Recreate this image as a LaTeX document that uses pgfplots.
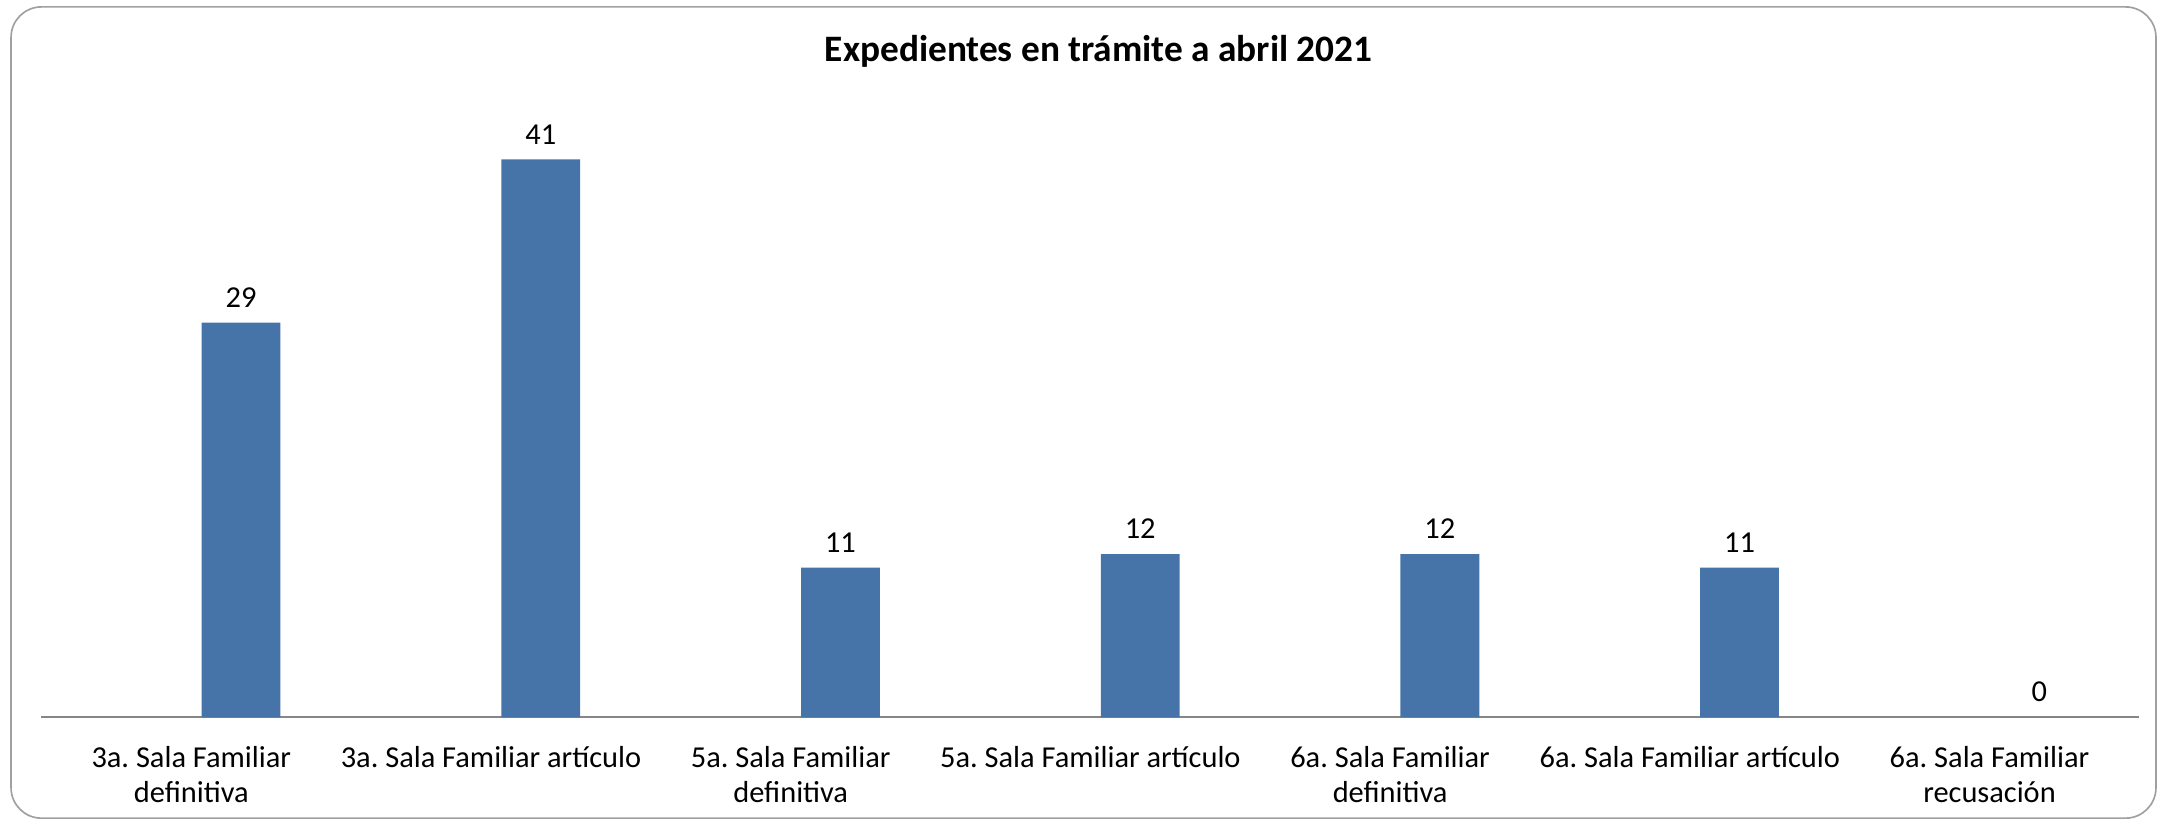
\documentclass[border=0pt]{standalone}
\usepackage{fontspec}
\setmainfont{Carlito}
\usepackage{pgfplots}
\pgfplotsset{compat=1.18}
\definecolor{barblue}{RGB}{70,116,168}
\definecolor{framegray}{RGB}{160,160,160}
\definecolor{axgray}{RGB}{134,134,134}
\frenchspacing
\begin{document}
\begin{tikzpicture}
\useasboundingbox (-15pt,-38pt) rectangle (769pt,259.5pt);
\draw[framegray, line width=0.6pt, rounded corners=11pt] (-11pt,-36.5pt) rectangle (765pt,257pt);
\node[font=\fontsize{13.5}{16}\selectfont\bfseries] at (382.5pt,241pt) {Expedientes en trámite a abril 2021};
\begin{axis}[
  scale only axis,
  width=759pt, height=221.5pt,
  xmin=-0.5, xmax=6.5, ymin=0, ymax=45,
  axis x line*=bottom, axis y line=none,
  x axis line style={axgray, line width=0.8pt, -},
  ybar, bar width=28.5pt, bar shift=18pt,
  xtick=data, major tick length=0pt,
  xticklabels={{3a. Sala Familiar\\definitiva},{3a. Sala Familiar artículo},{5a. Sala Familiar\\definitiva},{5a. Sala Familiar artículo},{6a. Sala Familiar\\definitiva},{6a. Sala Familiar artículo},{6a. Sala Familiar\\recusación}},
  xticklabel style={align=center, font=\fontsize{11}{12.8}\selectfont, yshift=-7pt},
  nodes near coords,
  every node near coord/.append style={font=\fontsize{11}{12}\selectfont, black, yshift=2pt},
  /pgf/number format/assume math mode=true,
]
\addplot[fill=barblue, draw=none] coordinates {(0,29) (1,41) (2,11) (3,12) (4,12) (5,11) (6,0)};
\end{axis}
\end{tikzpicture}
\end{document}
